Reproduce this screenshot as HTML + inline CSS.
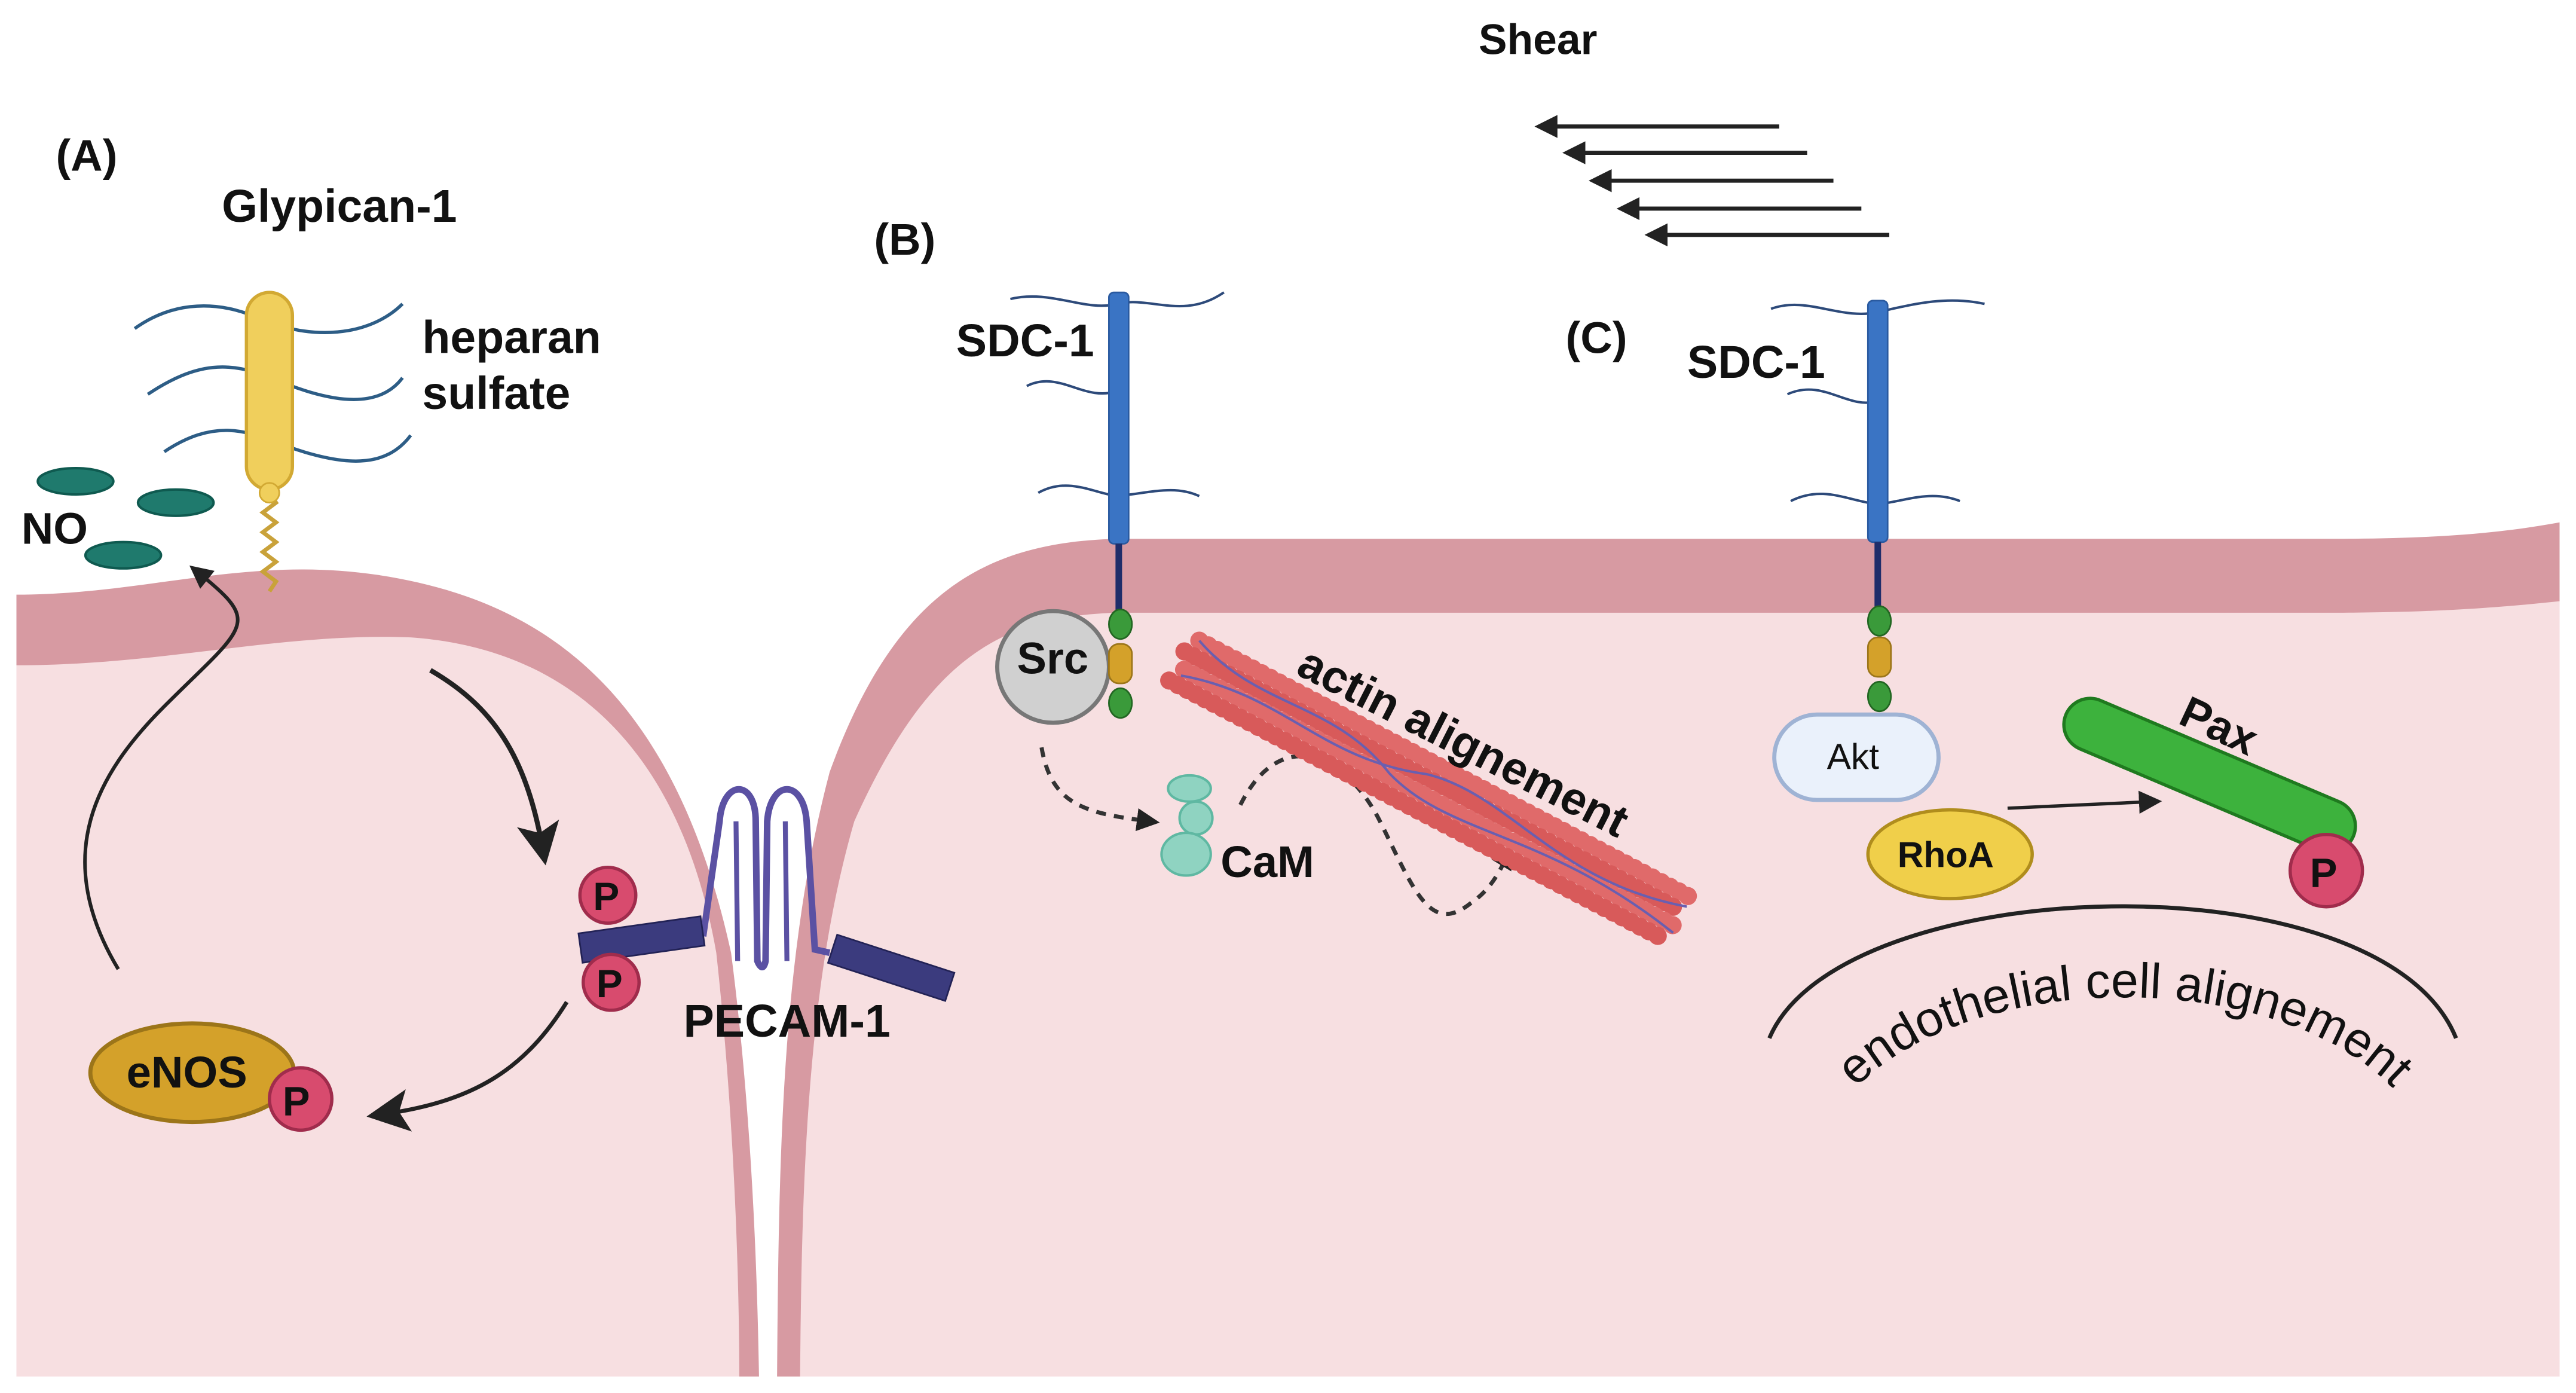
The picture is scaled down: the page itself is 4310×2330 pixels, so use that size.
<!DOCTYPE html>
<html><head><meta charset="utf-8"><style>
html,body{margin:0;padding:0;background:#fff;}
svg{display:block;}
text{font-family:"Liberation Sans",sans-serif;font-weight:bold;fill:#111;}
</style></head><body>
<svg width="4310" height="2330" viewBox="0 0 1568 848" preserveAspectRatio="none" xmlns="http://www.w3.org/2000/svg">
<defs>
<marker id="ah2" markerWidth="14" markerHeight="14" refX="8" refY="7" orient="auto" markerUnits="userSpaceOnUse"><path d="M0,0 L14,7 L0,14 Z" fill="#222"/></marker>
<marker id="ah3" markerWidth="26" markerHeight="26" refX="14" refY="13" orient="auto" markerUnits="userSpaceOnUse"><path d="M0,0 L26,13 L0,26 L6,13 Z" fill="#222"/></marker>
</defs>
<rect width="1568" height="848" fill="#fff"/>
<!-- left cell -->
<path d="M10,362 C90,362 150,338 230,350 C330,365 410,420 445,580 C458,680 461,780 462,838 L10,838Z" fill="#d79aa2"/>
<path d="M10,405 C100,405 170,385 250,388 C350,395 415,460 436,580 C447,680 450,780 450,838 L10,838Z" fill="#f7dfe1"/>
<!-- right cell -->
<path d="M473,838 C474,700 476,580 505,470 C545,360 600,330 680,328 L1420,328 C1480,328 1520,325 1558,318 L1558,838Z" fill="#d79aa2"/>
<path d="M487,838 C488,720 491,600 520,500 C565,400 610,375 680,373 L1420,373 C1480,373 1520,370 1558,366 L1558,838Z" fill="#f7dfe1"/>

<!-- Shear -->
<text x="900" y="33" font-size="26">Shear</text>
<g stroke="#222" stroke-width="2.5" marker-end="url(#ah2)">
<line x1="1083" y1="77" x2="940" y2="77"/>
<line x1="1100" y1="93" x2="957" y2="93"/>
<line x1="1116" y1="110" x2="973" y2="110"/>
<line x1="1133" y1="127" x2="990" y2="127"/>
<line x1="1150" y1="143" x2="1007" y2="143"/>
</g>

<!-- (A) -->
<text x="34" y="104" font-size="27">(A)</text>
<text x="135" y="135" font-size="28">Glypican-1</text>
<text x="257" y="215" font-size="28">heparan</text>
<text x="257" y="249" font-size="28">sulfate</text>
<g fill="none" stroke="#2d5d86" stroke-width="2">
<path d="M82,200 C110,180 140,185 160,195 C200,210 230,200 245,185"/>
<path d="M90,240 C120,220 140,220 165,230 C200,245 230,250 245,230"/>
<path d="M100,275 C130,255 150,262 170,270 C210,285 235,285 250,265"/>
</g>
<path d="M164,300 l4,6 l-8,6 l8,6 l-8,6 l8,6 l-8,6 l8,6 l-8,6 l8,6 l-4,6" fill="none" stroke="#c9a23a" stroke-width="2.5"/>
<rect x="150" y="178" width="28" height="120" rx="14" fill="#f0cf5c" stroke="#d2a933" stroke-width="2"/>
<circle cx="164" cy="300" r="6" fill="#f0cf5c" stroke="#d2a933"/>
<g fill="#1f7a6d" stroke="#0f5a50" stroke-width="1.5">
<ellipse cx="46" cy="293" rx="23" ry="8"/>
<ellipse cx="107" cy="306" rx="23" ry="8"/>
<ellipse cx="75" cy="338" rx="23" ry="8"/>
</g>
<text x="13" y="331" font-size="27">NO</text>
<path d="M72,590 C30,520 60,470 100,430 C150,380 160,380 120,348" fill="none" stroke="#222" stroke-width="2.2" marker-end="url(#ah2)"/>
<path d="M262,408 C300,430 320,460 330,515" fill="none" stroke="#222" stroke-width="3" marker-end="url(#ah3)"/>
<path d="M345,610 C320,650 290,670 235,678" fill="none" stroke="#222" stroke-width="2.5" marker-end="url(#ah3)"/>
<!-- eNOS -->
<ellipse cx="117" cy="653" rx="62" ry="30" fill="#d4a12a" stroke="#9c7519" stroke-width="2.5"/>
<text x="77" y="662" font-size="27">eNOS</text>
<circle cx="183" cy="669" r="19" fill="#d84b6e" stroke="#a02c4c" stroke-width="2"/>
<text x="172" y="679" font-size="25">P</text>
<!-- PECAM -->
<path d="M428,570 L438,500 C440,474 460,474 460,500 L461,585 C463,590 465,590 466,585 L467,500 C469,474 489,474 491,500 L496,578 L505,580" fill="none" stroke="#5b51a3" stroke-width="4"/>
<path d="M448,500 L449,585 M478,500 L479,585" stroke="#5b51a3" stroke-width="3"/>
<rect x="353" y="563" width="75" height="18" fill="#3b3b7e" stroke="#222255" transform="rotate(-8 390 572)"/>
<rect x="505" y="580" width="75" height="18" fill="#3b3b7e" stroke="#222255" transform="rotate(18 542 589)"/>
<circle cx="370" cy="545" r="17" fill="#d84b6e" stroke="#a02c4c" stroke-width="2"/>
<text x="361" y="554" font-size="24">P</text>
<circle cx="372" cy="598" r="17" fill="#d84b6e" stroke="#a02c4c" stroke-width="2"/>
<text x="363" y="607" font-size="24">P</text>
<text x="416" y="631" font-size="28">PECAM-1</text>

<!-- (B) -->
<text x="532" y="155" font-size="27">(B)</text>
<text x="582" y="217" font-size="28">SDC-1</text>
<g fill="none" stroke="#2d4a7a" stroke-width="1.5">
<path d="M615,182 C640,176 660,190 680,185 C700,180 720,195 745,178"/>
<path d="M625,235 C645,225 660,245 680,238"/>
<path d="M632,300 C650,290 665,300 680,302 C700,300 715,295 730,302"/>
</g>
<rect x="675" y="178" width="12" height="153" rx="3" fill="#3a74c4" stroke="#2a5aa0"/>
<line x1="681" y1="331" x2="681" y2="372" stroke="#1f2d6a" stroke-width="4"/>
<circle cx="641" cy="406" r="34" fill="#d0d0d0" stroke="#777" stroke-width="2.5"/>
<text x="619" y="410" font-size="27">Src</text>
<ellipse cx="682" cy="380" rx="7" ry="9" fill="#3a9a3a" stroke="#226622"/>
<rect x="675" y="392" width="14" height="24" rx="6" fill="#d4a12a" stroke="#9c7519"/>
<ellipse cx="682" cy="428" rx="7" ry="9" fill="#3a9a3a" stroke="#226622"/>
<path d="M634,455 C640,490 660,495 700,500" fill="none" stroke="#333" stroke-width="2.5" stroke-dasharray="6,5" marker-end="url(#ah2)"/>
<path d="M755,490 C780,440 820,460 840,500 C860,540 870,570 895,550 C910,540 915,525 918,520" fill="none" stroke="#333" stroke-width="2.5" stroke-dasharray="6,5" marker-end="url(#ah2)"/>
<g fill="#8fd3c1" stroke="#5fb8a2" stroke-width="1.5">
<ellipse cx="724" cy="480" rx="13" ry="8"/>
<ellipse cx="728" cy="498" rx="10" ry="10"/>
<ellipse cx="722" cy="520" rx="15" ry="13"/>
</g>
<text x="743" y="534" font-size="27">CaM</text>
<g transform="translate(730,390) rotate(27.6)" >
<line x1="0" y1="0" x2="338" y2="0" stroke="#e06a6a" stroke-width="11" stroke-dasharray="0.1,6" stroke-linecap="round"/>
<line x1="-5" y1="10" x2="333" y2="10" stroke="#d85a5a" stroke-width="11" stroke-dasharray="0.1,6" stroke-linecap="round"/>
<line x1="0" y1="20" x2="338" y2="20" stroke="#e06a6a" stroke-width="11" stroke-dasharray="0.1,6" stroke-linecap="round"/>
<line x1="-5" y1="30" x2="333" y2="30" stroke="#d85a5a" stroke-width="11" stroke-dasharray="0.1,6" stroke-linecap="round"/>
<path d="M0,0 C50,20 90,-5 140,18 C190,35 240,5 338,24" fill="none" stroke="#6a5fb0" stroke-width="1.5"/>
<path d="M0,24 C60,5 100,30 160,8 C210,-5 260,30 338,6" fill="none" stroke="#6a5fb0" stroke-width="1.5"/>
</g>
<text transform="translate(788,410) rotate(27)" font-size="28">actin alignement</text>

<!-- (C) -->
<text x="953" y="215" font-size="27">(C)</text>
<text x="1027" y="230" font-size="28">SDC-1</text>
<g fill="none" stroke="#2d4a7a" stroke-width="1.5">
<path d="M1078,188 C1100,180 1120,195 1143,190 C1165,185 1185,180 1208,185"/>
<path d="M1088,240 C1110,230 1125,250 1143,244"/>
<path d="M1090,305 C1110,295 1125,305 1143,307 C1160,305 1175,298 1193,305"/>
</g>
<rect x="1137" y="183" width="12" height="147" rx="3" fill="#3a74c4" stroke="#2a5aa0"/>
<line x1="1143" y1="330" x2="1143" y2="370" stroke="#1f2d6a" stroke-width="4"/>
<ellipse cx="1144" cy="378" rx="7" ry="9" fill="#3a9a3a" stroke="#226622"/>
<rect x="1137" y="388" width="14" height="24" rx="6" fill="#d4a12a" stroke="#9c7519"/>
<ellipse cx="1144" cy="424" rx="7" ry="9" fill="#3a9a3a" stroke="#226622"/>
<rect x="1080" y="435" width="100" height="52" rx="26" fill="#eaf1fb" stroke="#9fb3d4" stroke-width="2.5"/>
<text x="1112" y="468" font-size="22" style="font-weight:normal">Akt</text>
<ellipse cx="1187" cy="520" rx="50" ry="27" fill="#f0cf4a" stroke="#b08d1d" stroke-width="2"/>
<text x="1155" y="528" font-size="22">RhoA</text>
<line x1="1222" y1="492" x2="1310" y2="488" stroke="#222" stroke-width="2" marker-end="url(#ah2)"/>
<g transform="translate(1345,472) rotate(23)">
<rect x="-95" y="-16" width="190" height="32" rx="16" fill="#3db23d" stroke="#1f7a1f" stroke-width="2"/>
</g>
<text transform="translate(1325,440) rotate(25)" font-size="27">Pax</text>
<circle cx="1416" cy="530" r="22" fill="#d84b6e" stroke="#a02c4c" stroke-width="2"/>
<text x="1406" y="540" font-size="25">P</text>
<path d="M1077,632 C1120,530 1450,520 1495,632" fill="none" stroke="#222" stroke-width="2.5"/>
<path id="arc" d="M1105,702 C1145,578 1435,573 1482,702" fill="none"/>
<text font-size="30" style="font-weight:normal"><textPath href="#arc" startOffset="50%" text-anchor="middle">endothelial cell alignement</textPath></text>
</svg>
</body></html>
